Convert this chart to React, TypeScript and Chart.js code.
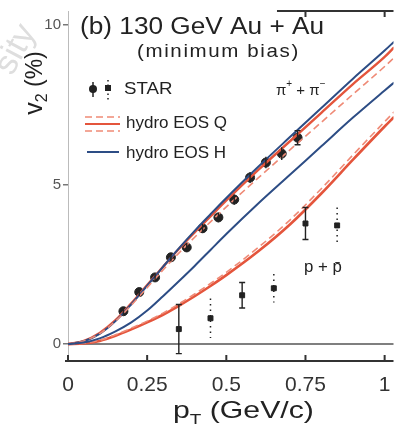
import React, { useEffect, useRef } from "react";
import { Chart, registerables } from "chart.js";
Chart.register(...registerables);

// ---- data ----
const xTicks = [0, 0.25, 0.5, 0.75, 1];
const yTicks = [0, 5, 10];

const curvePt = [0, 0.05, 0.1, 0.15, 0.2, 0.25, 0.3, 0.35, 0.4, 0.45, 0.5, 0.6, 0.7, 0.8, 0.9, 1.0, 1.03];
const pionEosH = [0, 0.09, 0.32, 0.72, 1.25, 1.83, 2.42, 3.0, 3.55, 4.07, 4.58, 5.55, 6.48, 7.4, 8.32, 9.2, 9.48];
const pionEosQ = [0, 0.1, 0.35, 0.75, 1.28, 1.85, 2.42, 2.98, 3.5, 4.0, 4.5, 5.45, 6.35, 7.25, 8.15, 9.0, 9.3];
const pionEosQLow = [0, 0.1, 0.33, 0.72, 1.22, 1.77, 2.32, 2.85, 3.35, 3.83, 4.3, 5.2, 6.08, 6.95, 7.83, 8.7, 8.98];
const protonEosH = [0, 0.05, 0.18, 0.4, 0.68, 1.05, 1.5, 1.97, 2.45, 2.95, 3.45, 4.4, 5.3, 6.2, 7.1, 7.95, 8.2];
const protonEosQ = [0, 0.02, 0.1, 0.26, 0.46, 0.68, 0.92, 1.2, 1.5, 1.82, 2.16, 2.9, 3.74, 4.72, 5.78, 6.82, 7.12];
const protonEosQHigh = [0, 0.03, 0.12, 0.29, 0.5, 0.72, 0.97, 1.26, 1.57, 1.9, 2.25, 3.02, 3.88, 4.87, 5.93, 6.97, 7.28];

const pionPt = [0.175, 0.225, 0.275, 0.325, 0.375, 0.425, 0.475, 0.525, 0.575, 0.625, 0.675, 0.725];
const pionV2 = [1.03, 1.63, 2.09, 2.72, 3.03, 3.63, 3.97, 4.53, 5.22, 5.69, 5.97, 6.47];
const pionErr = [0.12, 0.12, 0.12, 0.13, 0.13, 0.14, 0.15, 0.16, 0.17, 0.18, 0.2, 0.22];

const protonPtA = [0.35, 0.55, 0.75];
const protonV2A = [0.47, 1.53, 3.78];
const protonErrA = [0.77, 0.4, 0.5];
const protonPtB = [0.45, 0.65, 0.85];
const protonV2B = [0.81, 1.75, 3.72];
const protonErrB = [0.62, 0.45, 0.56];

const RED = "#e4553c";
const RED_LIGHT = "#ef8a76";
const BLUE = "#2d4d85";
const INK = "#222";

const pts = (xs: number[], ys: number[]) => xs.map((x, i) => ({ x, y: ys[i] }));

function drawText(ctx: CanvasRenderingContext2D, s: string, x: number, y: number, font: string, opts: any = {}) {
  ctx.save();
  ctx.font = font;
  ctx.fillStyle = opts.color || INK;
  ctx.textBaseline = "middle";
  ctx.textAlign = opts.align || "left";
  ctx.translate(x, y);
  ctx.scale(opts.sx || 1, 1);
  if (opts.ls) (ctx as any).letterSpacing = opts.ls + "px";
  ctx.fillText(s, 0, 0);
  ctx.restore();
}

const errorBarPlugin = {
  id: "errbars",
  afterDatasetsDraw(chart: any) {
    const { ctx } = chart;
    const xs = chart.scales.x, ys = chart.scales.y;
    chart.data.datasets.forEach((ds: any) => {
      if (!ds.errors) return;
      ds.data.forEach((p: any, i: number) => {
        const e = ds.errors[i];
        const px = xs.getPixelForValue(p.x);
        const y1 = ys.getPixelForValue(p.y + e);
        const y2 = ys.getPixelForValue(p.y - e);
        ctx.save();
        ctx.strokeStyle = INK;
        ctx.lineWidth = ds.dotted ? 1.5 : 1.4;
        ctx.setLineDash(ds.dotted ? [1.5, 4] : []);
        ctx.beginPath();
        ctx.moveTo(px, y1);
        ctx.lineTo(px, y2);
        if (!ds.dotted && e > 0.2) {
          ctx.moveTo(px - 3, y1);
          ctx.lineTo(px + 3, y1);
          ctx.moveTo(px - 3, y2);
          ctx.lineTo(px + 3, y2);
        }
        ctx.stroke();
        ctx.restore();
      });
    });
  },
};

const framePlugin = {
  id: "frame",
  beforeDatasetsDraw(chart: any) {
    const { ctx, chartArea } = chart;
    const xs = chart.scales.x, ys = chart.scales.y;
    ctx.save();
    const y0 = ys.getPixelForValue(0);
    ctx.strokeStyle = "#555";
    ctx.lineWidth = 1.5;
    ctx.beginPath();
    ctx.moveTo(chartArea.left, y0);
    ctx.lineTo(chartArea.right, y0);
    ctx.stroke();
    ctx.strokeStyle = "#333";
    ctx.lineWidth = 2;
    ctx.beginPath();
    ctx.moveTo(chartArea.left - 3, chartArea.bottom);
    ctx.lineTo(chartArea.right, chartArea.bottom);
    xTicks.forEach((v) => {
      const px = xs.getPixelForValue(v);
      ctx.moveTo(px, chartArea.bottom);
      ctx.lineTo(px, chartArea.bottom - 6);
    });
    ctx.stroke();
    ctx.beginPath();
    ctx.moveTo(xs.getPixelForValue(0.66), chartArea.top);
    ctx.lineTo(chartArea.right, chartArea.top);
    [0.75, 1].forEach((v) => {
      const px = xs.getPixelForValue(v);
      ctx.moveTo(px, chartArea.top);
      ctx.lineTo(px, chartArea.top + 6);
    });
    ctx.stroke();
    ctx.restore();
  },
};

const textPlugin = {
  id: "texts",
  afterDraw(chart: any) {
    const { ctx } = chart;
    const F = "'Liberation Sans', Arial, sans-serif";
    ctx.save();
    ctx.translate(4, 72);
    ctx.rotate(-1.08);
    ctx.font = `34px ${F}`;
    ctx.fillStyle = "#dedede";
    ctx.textBaseline = "middle";
    ctx.fillText("sity", 0, 0);
    ctx.restore();

    drawText(ctx, "(b) 130 GeV Au + Au", 80, 28, `23px ${F}`, { sx: 1.14 });
    drawText(ctx, "(minimum bias)", 137, 52, `19px ${F}`, { sx: 1.08, ls: 1.5 });

    ctx.save();
    ctx.translate(34, 83);
    ctx.rotate(-Math.PI / 2);
    ctx.fillStyle = INK;
    ctx.textBaseline = "alphabetic";
    ctx.font = `25px ${F}`;
    const wv = ctx.measureText("v").width;
    ctx.font = `16px ${F}`;
    const w2 = ctx.measureText("2").width;
    ctx.font = `23px ${F}`;
    const wr = ctx.measureText(" (%)").width;
    const x0 = -(wv + w2 + wr) / 2;
    ctx.font = `25px ${F}`;
    ctx.fillText("v", x0, 8);
    ctx.font = `16px ${F}`;
    ctx.fillText("2", x0 + wv, 13);
    ctx.font = `23px ${F}`;
    ctx.fillText(" (%)", x0 + wv + w2, 8);
    ctx.restore();

    ctx.save();
    ctx.fillStyle = INK;
    ctx.textBaseline = "alphabetic";
    ctx.translate(173, 418);
    ctx.scale(1.26, 1);
    ctx.font = `24px ${F}`;
    ctx.fillText("p", 0, 0);
    const wp = ctx.measureText("p").width;
    ctx.font = `15px ${F}`;
    ctx.fillText("T", wp, 6);
    const wt = ctx.measureText("T").width;
    ctx.font = `24px ${F}`;
    ctx.fillText(" (GeV/c)", wp + wt, 0);
    ctx.restore();

    ctx.save();
    ctx.fillStyle = INK;
    ctx.strokeStyle = INK;
    ctx.lineWidth = 1.5;
    ctx.beginPath();
    ctx.arc(93, 89, 4, 0, Math.PI * 2);
    ctx.fill();
    ctx.beginPath();
    ctx.moveTo(93, 82);
    ctx.lineTo(93, 97);
    ctx.stroke();
    ctx.fillRect(105, 85, 6, 6);
    ctx.setLineDash([1.5, 3]);
    ctx.beginPath();
    ctx.moveTo(108, 80);
    ctx.lineTo(108, 100);
    ctx.stroke();
    ctx.restore();
    drawText(ctx, "STAR", 124, 89, `17px ${F}`, { sx: 1.1 });

    ctx.save();
    ctx.strokeStyle = RED_LIGHT;
    ctx.lineWidth = 1.6;
    ctx.setLineDash([7, 4]);
    ctx.beginPath();
    ctx.moveTo(85, 117);
    ctx.lineTo(120, 117);
    ctx.moveTo(85, 131);
    ctx.lineTo(120, 131);
    ctx.stroke();
    ctx.setLineDash([]);
    ctx.strokeStyle = RED;
    ctx.lineWidth = 2;
    ctx.beginPath();
    ctx.moveTo(85, 124);
    ctx.lineTo(120, 124);
    ctx.stroke();
    ctx.restore();
    drawText(ctx, "hydro EOS Q", 126, 123, `17px ${F}`, { sx: 1.0 });

    ctx.save();
    ctx.strokeStyle = BLUE;
    ctx.lineWidth = 2;
    ctx.beginPath();
    ctx.moveTo(87, 152);
    ctx.lineTo(119, 152);
    ctx.stroke();
    ctx.restore();
    drawText(ctx, "hydro EOS H", 126, 153, `17px ${F}`, { sx: 1.0 });

    ctx.save();
    ctx.fillStyle = INK;
    ctx.textBaseline = "alphabetic";
    ctx.font = `15px ${F}`;
    let lx = 276;
    const ly = 95;
    ctx.fillText("\u03c0", lx, ly);
    lx += ctx.measureText("\u03c0").width;
    ctx.font = `10px ${F}`;
    ctx.fillText("+", lx, ly - 8);
    lx += ctx.measureText("+").width;
    ctx.font = `15px ${F}`;
    ctx.fillText(" + \u03c0", lx, ly);
    lx += ctx.measureText(" + \u03c0").width;
    ctx.font = `10px ${F}`;
    ctx.fillText("\u2212", lx, ly - 8);
    ctx.restore();

    drawText(ctx, "p + p\u0304", 304, 268, `16px ${F}`, { sx: 1.05 });
  },
};

export default function App() {
  const ref = useRef<HTMLCanvasElement>(null);
  useEffect(() => {
    const canvas = ref.current!;
    const curve = (data: number[], color: string, width: number, dash: number[] = []) => ({
      type: "line",
      data: pts(curvePt, data),
      borderColor: color,
      borderWidth: width,
      borderDash: dash,
      pointRadius: 0,
      cubicInterpolationMode: "monotone",
      fill: false,
    });
    const chart = new Chart(canvas, {
      type: "line",
      data: {
        datasets: [
          curve(protonEosH, BLUE, 2),
          curve(protonEosQHigh, RED_LIGHT, 1.6, [7, 4]),
          curve(protonEosQ, RED, 2.6),
          curve(pionEosQLow, RED_LIGHT, 1.6, [7, 4]),
          curve(pionEosH, BLUE, 2),
          curve(pionEosQ, RED, 2.4),
          {
            type: "line",
            data: pts(pionPt, pionV2),
            showLine: false,
            pointRadius: 4.5,
            pointStyle: "circle",
            pointBackgroundColor: INK,
            pointBorderColor: INK,
            errors: pionErr,
          } as any,
          {
            type: "line",
            data: pts(protonPtA, protonV2A),
            showLine: false,
            pointRadius: 3.5,
            pointStyle: "rect",
            pointBackgroundColor: INK,
            pointBorderColor: INK,
            errors: protonErrA,
          } as any,
          {
            type: "line",
            data: pts(protonPtB, protonV2B),
            showLine: false,
            pointRadius: 3.5,
            pointStyle: "rect",
            pointBackgroundColor: INK,
            pointBorderColor: INK,
            errors: protonErrB,
            dotted: true,
          } as any,
        ] as any,
      },
      options: {
        responsive: false,
        maintainAspectRatio: false,
        devicePixelRatio: 1,
        animation: false,
        layout: { padding: { top: 10, right: 0, left: 0, bottom: 0 } },
        plugins: { legend: { display: false }, tooltip: { enabled: false } },
        scales: {
          x: {
            type: "linear",
            min: 0,
            max: 1.028,
            afterBuildTicks: (s: any) => {
              s.ticks = xTicks.map((v) => ({ value: v }));
            },
            afterFit: (s: any) => {
              s.height = 68;
            },
            grid: { display: false },
            border: { display: false },
            ticks: {
              color: "#333",
              font: { family: "'Liberation Sans Narrow', 'Liberation Sans', sans-serif", size: 21 },
              padding: 4,
              maxRotation: 0,
              callback: (v: any) => String(v),
            },
          },
          y: {
            type: "linear",
            min: -0.53,
            max: 10.44,
            afterBuildTicks: (s: any) => {
              s.ticks = yTicks.map((v) => ({ value: v }));
            },
            afterFit: (s: any) => {
              s.width = 68;
            },
            grid: { display: true, drawOnChartArea: false, drawTicks: true, tickLength: 5, color: "#777", lineWidth: 1.5 },
            border: { display: true, color: "#bbb", dash: [2, 3], width: 1 },
            ticks: {
              color: "#555",
              font: { family: "'Liberation Sans Narrow', 'Liberation Sans', sans-serif", size: 15 },
              padding: 2,
            },
          },
        },
      } as any,
      plugins: [framePlugin, errorBarPlugin, textPlugin],
    });
    return () => chart.destroy();
  }, []);
  return (
    <div style={{ position: "fixed", left: 0, top: 0, width: 399, height: 429, background: "#fff" }}>
      <canvas ref={ref} width={399} height={429} style={{ display: "block", width: 399, height: 429 }} />
    </div>
  );
}
